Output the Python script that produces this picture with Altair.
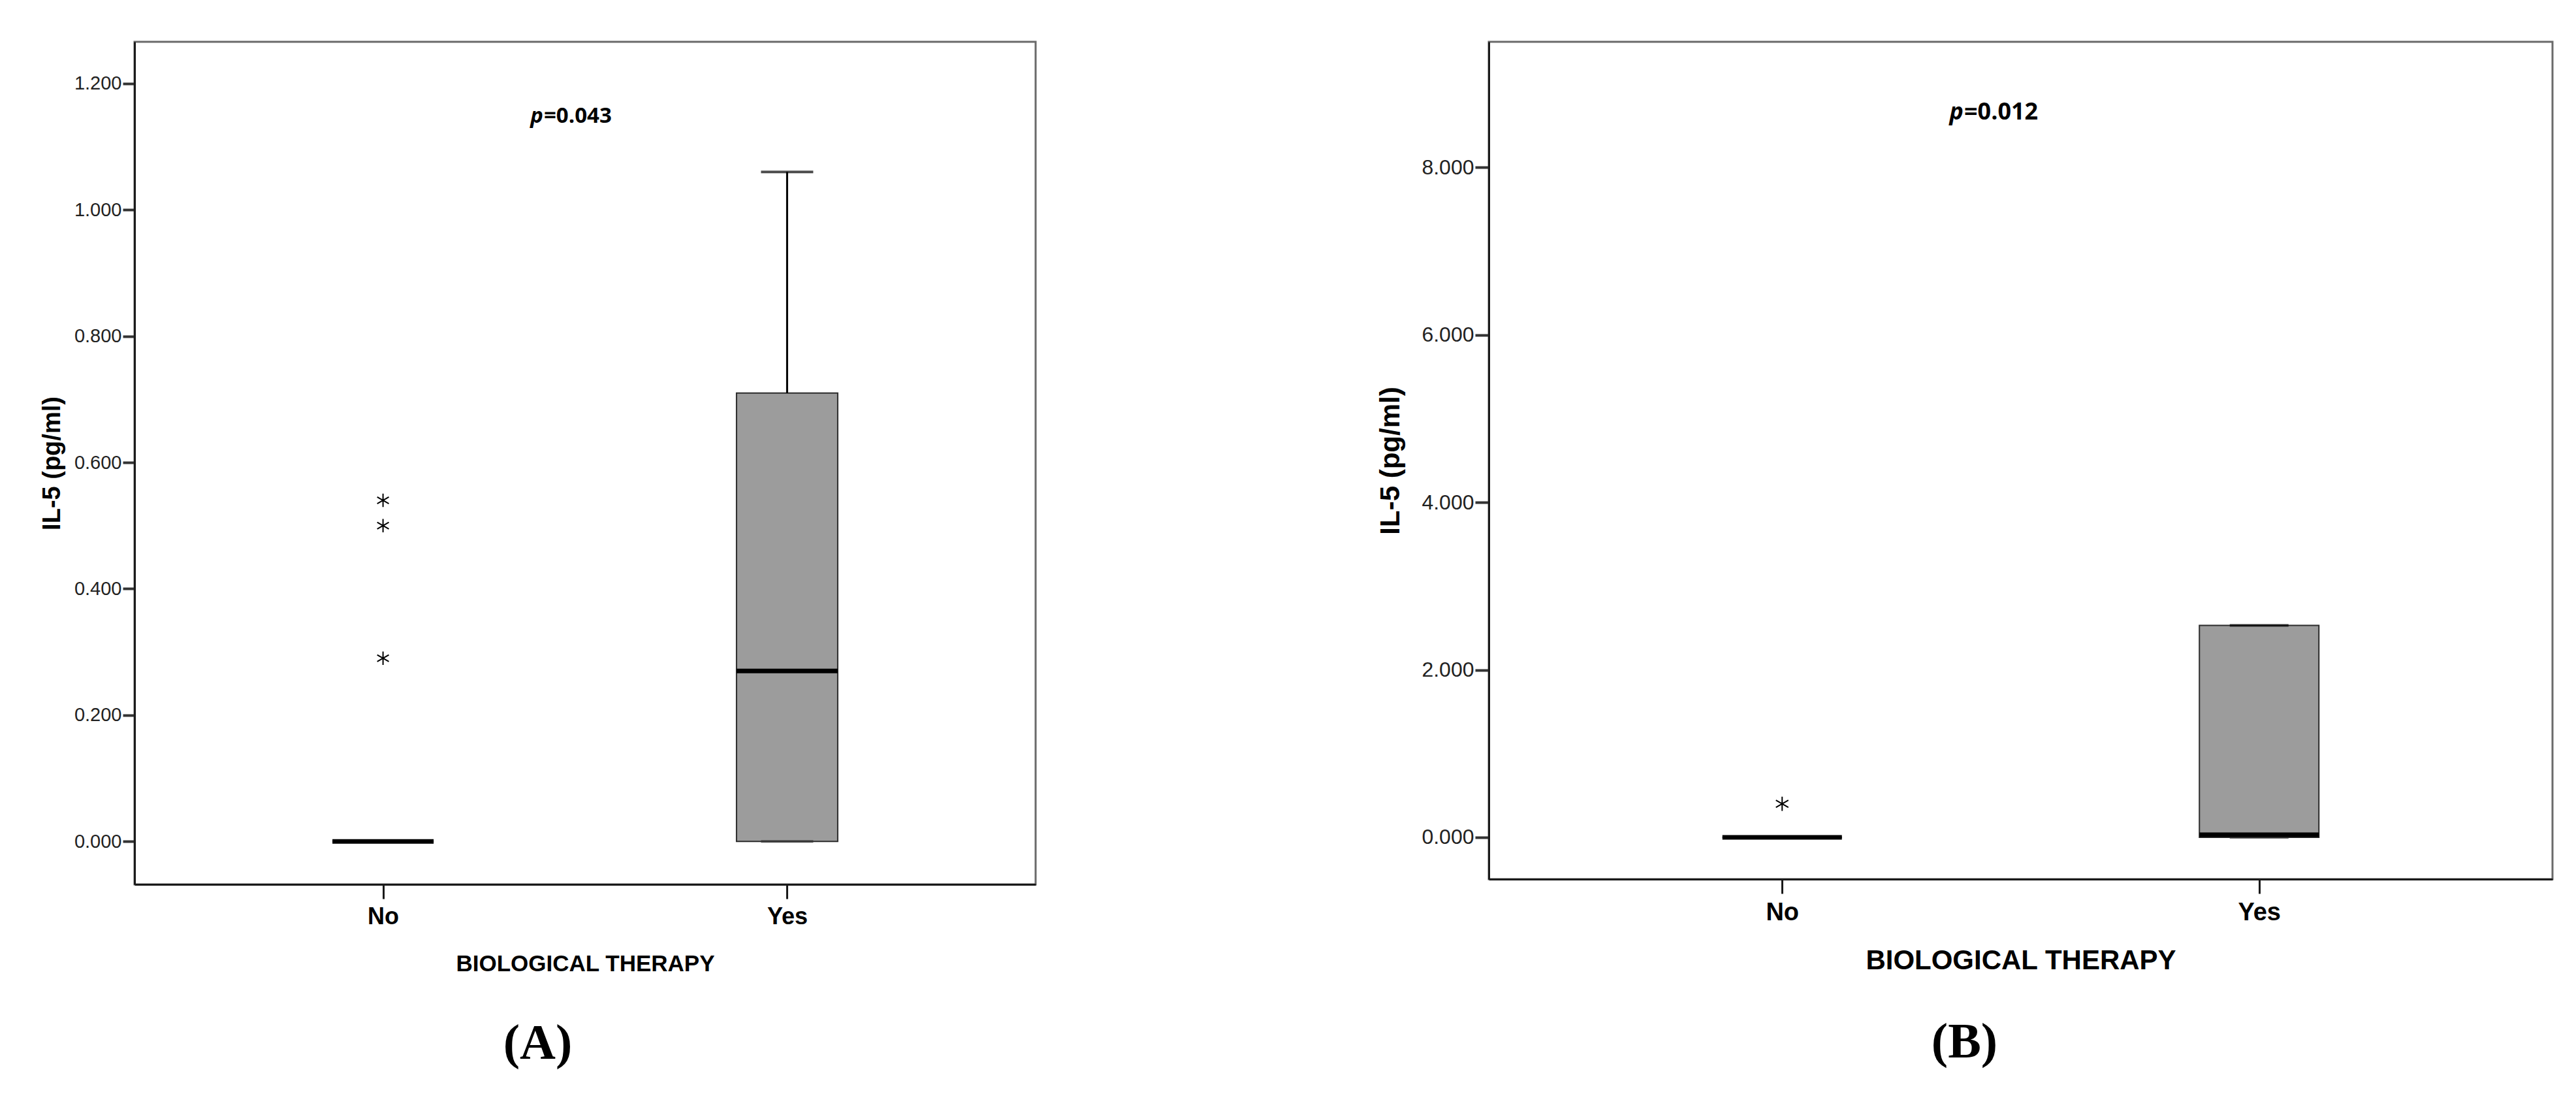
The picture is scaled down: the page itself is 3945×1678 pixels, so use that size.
import altair as alt
import pandas as pd

categories = ["No", "Yes"]

# ---- Panel A ----
a_q1 = [0.0, 0.0]
a_median = [0.0, 0.27]
a_q3 = [0.0, 0.71]
a_whisk_lo = [0.0, 0.0]
a_whisk_hi = [0.0, 1.06]
a_out_cat = ["No", "No", "No"]
a_out_val = [0.54, 0.50, 0.29]
a_ticks = [0.0, 0.2, 0.4, 0.6, 0.8, 1.0, 1.2]
a_domain = [-0.068, 1.266]
a_p_text = "=0.043"
a_p_y = 1.148

# ---- Panel B ----
b_q1 = [0.0, 0.0]
b_median = [0.0, 0.03]
b_q3 = [0.0, 2.53]
b_whisk_lo = [0.0, 0.0]
b_whisk_hi = [0.0, 2.53]
b_out_cat = ["No"]
b_out_val = [0.40]
b_ticks = [0, 2, 4, 6, 8]
b_domain = [-0.5, 9.5]
b_p_text = "=0.012"
b_p_y = 8.655

ASTERISK = "M0,-1L0,1M-0.87,-0.5L0.87,0.5M-0.87,0.5L0.87,-0.5"
BOX_FILL = "#9c9c9c"
INK = "#1a1a1a"


def panel(q1, med, q3, wlo, whi, out_cat, out_val, ticks, domain, p_text, p_y,
          p_x, W, H, box_w, cap_w, star_size, lab_font, lab_size, cat_size,
          xt_size, yt_size, yt_x, p_size, tick_y, label):
    box_df = pd.DataFrame({"cat": categories, "q1": q1, "med": med, "q3": q3,
                           "lo": wlo, "hi": whi})
    out_df = pd.DataFrame({"cat": out_cat, "val": out_val})
    p_df = pd.DataFrame({"y": [p_y]})

    xaxis = alt.Axis(
        title="BIOLOGICAL THERAPY", titleFont=lab_font, titleFontSize=xt_size,
        titleFontWeight="bold", titleColor="black", titleY=104,
        labelFont=lab_font, labelFontSize=cat_size, labelFontWeight="bold",
        labelColor="black", labelPadding=10, labelAngle=0,
        tickSize=22, tickWidth=3, tickColor=INK,
        domainColor=INK, domainWidth=3,
    )
    yaxis = alt.Axis(
        title="IL-5 (pg/ml)", titleFont="Liberation Sans", titleFontSize=yt_size,
        titleFontWeight="bold", titleColor="black", titleX=yt_x,
        values=ticks, format=".3f", labelFont=lab_font, labelFontSize=lab_size,
        labelColor="#222222", labelPadding=2, tickSize=tick_y, tickWidth=4,
        tickColor="#333333", domainColor=INK, domainWidth=3, grid=False,
    )
    xsc = alt.Scale(type="point", domain=categories, padding=0.615)
    ysc = alt.Scale(domain=domain, nice=False, zero=False)

    def X():
        return alt.X("cat:N", scale=xsc, axis=xaxis)

    def Y(f):
        return alt.Y(f, scale=ysc, axis=yaxis)

    base = alt.Chart(box_df)
    box = base.mark_bar(size=box_w, color=BOX_FILL, stroke="#2b2b2b",
                        strokeWidth=2).encode(x=X(), y=Y("q1:Q"), y2="q3:Q")
    whisk_hi = base.mark_rule(color="black", strokeWidth=3).encode(
        x=X(), y=Y("q3:Q"), y2="hi:Q")
    whisk_lo = base.mark_rule(color="black", strokeWidth=3).encode(
        x=X(), y=Y("lo:Q"), y2="q1:Q")
    cap_hi = base.mark_tick(size=cap_w, thickness=4, color="black").encode(
        x=X(), y=Y("hi:Q"))
    cap_lo = base.mark_tick(size=cap_w, thickness=4, color="#333333").encode(
        x=X(), y=Y("lo:Q"))
    median = base.mark_tick(size=box_w, thickness=7, color="black",
                            opacity=1).encode(x=X(), y=Y("med:Q"))
    outliers = alt.Chart(out_df).mark_point(
        shape=ASTERISK, size=star_size, filled=False, color="black",
        strokeWidth=2, opacity=1).encode(x=X(), y=Y("val:Q"))
    p_it = alt.Chart(p_df).mark_text(
        text="p", align="right", baseline="middle", font="Open Sans",
        fontStyle="italic", fontWeight="bold", fontSize=p_size, color="black",
        dx=-1).encode(x=alt.value(p_x), y=Y("y:Q"))
    p_rest = alt.Chart(p_df).mark_text(
        text=p_text, align="left", baseline="middle", font="Open Sans",
        fontWeight="bold", fontSize=p_size, color="black").encode(
        x=alt.value(p_x), y=Y("y:Q"))

    return alt.layer(box, whisk_hi, whisk_lo, cap_hi, cap_lo, median,
                     outliers, p_it, p_rest).properties(
        width=W, height=H,
        title=alt.TitleParams(text=label, orient="bottom", anchor="middle",
                              frame="bounds", font="Liberation Serif",
                              fontSize=76, fontWeight="bold", color="black",
                              offset=68),
    )


panel_a = panel(a_q1, a_median, a_q3, a_whisk_lo, a_whisk_hi, a_out_cat,
                a_out_val, a_ticks, a_domain, a_p_text, a_p_y, 627, 1380, 1290,
                155, 80, 420, "Liberation Sans Narrow, Liberation Sans", 29, 36,
                35, 38, -107, 33, 18, "(A)")
panel_b = panel(b_q1, b_median, b_q3, b_whisk_lo, b_whisk_hi, b_out_cat,
                b_out_val, b_ticks, b_domain, b_p_text, b_p_y, 728, 1629, 1282,
                183, 90, 480, "Liberation Sans", 32, 38, 42, 42, -129, 36, 21,
                "(B)")

chart = alt.hconcat(panel_a, panel_b, spacing=694, bounds="flush").properties(
    padding={"left": 51, "top": 54, "right": 10, "bottom": 10},
    background="white",
).configure_view(stroke="#6a6a6a", strokeWidth=3)

chart.save("out.html", embed_options={"renderer": "svg", "actions": False})
